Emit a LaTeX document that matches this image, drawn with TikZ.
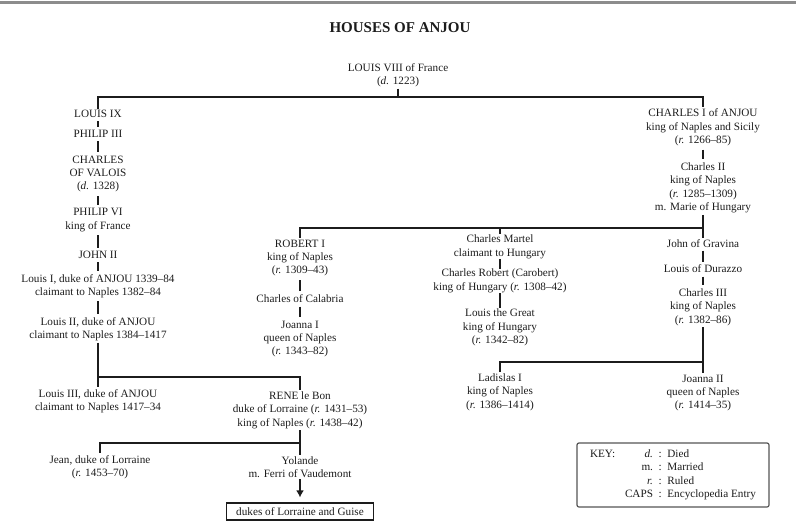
\documentclass[tikz,border=0pt]{standalone}
\usepackage{fontspec}
\setmainfont{Liberation Serif}
\usepackage{tikz}
\usetikzlibrary{arrows.meta}
\definecolor{ink}{HTML}{1C1C1C}
\definecolor{rulegray}{HTML}{8C8C8C}

\begin{document}
\begin{tikzpicture}[x=1pt,y=-1pt, every node/.style={font=\fontsize{11.2}{13.4}\selectfont,text=ink,align=center,inner sep=1.5pt},
    link/.style={draw=ink,line width=1.5pt}, tick/.style={link,shorten <=#1,shorten >=#1}, tick/.default=2pt]
    \useasboundingbox (0,0) rectangle (796,525);
    \draw[rulegray,line width=3pt] (0,2) -- (796,2);
    \node[font=\bfseries\fontsize{15}{18}\selectfont] (title) at (400,28) {HOUSES OF ANJOU};
    \node (louis8) at (398,75) {LOUIS VIII of France\\(\textit{d.} 1223)};
    \coordinate (bar1) at (0,97);
    \coordinate (bar2) at (0,228);
    \coordinate (bar3) at (0,362);
    \coordinate (bar4) at (0,377);
    \coordinate (bar5) at (0,443);

    \node (louisIX) at (98,114) {LOUIS IX};
    \node (philip3) at (98,134) {PHILIP III};
    \node (charlesV) at (98,174) {CHARLES\\OF VALOIS\\(\textit{d.} 1328)};
    \node (philip6) at (98,220) {PHILIP VI\\king of France};
    \node (john2) at (98,255) {JOHN II};
    \node (louis1) at (98,286.5) {Louis I, duke of ANJOU 1339--84\\claimant to Naples 1382--84};
    \node (louis2) at (98,329) {Louis II, duke of ANJOU\\claimant to Naples 1384--1417};
    \node (louis3) at (98,401) {Louis III, duke of ANJOU\\claimant to Naples 1417--34};
    \node (rene) at (300,410) {RENE le Bon\\duke of Lorraine (\textit{r.} 1431--53)\\king of Naples (\textit{r.} 1438--42)};
    \node (jean) at (100,467) {Jean, duke of Lorraine\\(\textit{r.} 1453--70)};
    \node (yolande) at (300,467) {Yolande\\m. Ferri of Vaudemont};
    \node[draw=ink,line width=1.2pt,minimum width=147pt,minimum height=17pt] (lorraine) at (300,511.5) {dukes of Lorraine and Guise};

    \node (charles1) at (703,127.5) {CHARLES I of ANJOU\\king of Naples and Sicily\\(\textit{r.} 1266--85)};
    \node (charles2) at (703,188) {Charles II\\king of Naples\\(\textit{r.} 1285--1309)\\m. Marie of Hungary};
    \node (robert) at (300,258) {ROBERT I\\king of Naples\\(\textit{r.} 1309--43)};
    \node (calabria) at (300,299) {Charles of Calabria};
    \node (joanna1) at (300,339) {Joanna I\\queen of Naples\\(\textit{r.} 1343--82)};
    \node (martel) at (500,247) {Charles Martel\\claimant to Hungary};
    \node (carobert) at (500,281) {Charles Robert (Carobert)\\king of Hungary (\textit{r.} 1308--42)};
    \node (louisgreat) at (500,327.5) {Louis the Great\\king of Hungary\\(\textit{r.} 1342--82)};
    \node (gravina) at (703,244) {John of Gravina};
    \node (durazzo) at (703,269) {Louis of Durazzo};
    \node (charles3) at (703,307) {Charles III\\king of Naples\\(\textit{r.} 1382--86)};
    \node (ladislas) at (500,392) {Ladislas I\\king of Naples\\(\textit{r.} 1386--1414)};
    \node (joanna2) at (703,393) {Joanna II\\queen of Naples\\(\textit{r.} 1414--35)};

    \node[draw=ink!75,line width=1.2pt,rounded corners=2pt,minimum width=192pt,minimum height=64pt] (key) at (673,475) {\begin{tabular}{@{}l@{}r@{\enspace:\enspace}l@{}}
        \makebox[35pt][l]{KEY:} & \textit{d.} & Died\\
        & m. & Married\\
        & \textit{r.} & Ruled\\
        & CAPS & Encyclopedia Entry
      \end{tabular}};

    \draw[link] (louis8) -- (louis8 |- bar1);
    \draw[link] (louisIX.north) -- (louisIX.north |- bar1) -| (charles1.north);
    \draw[tick] (louisIX) -- (philip3); \draw[tick] (philip3) -- (charlesV); \draw[tick] (charlesV) -- (philip6);
    \draw[tick] (philip6) -- (john2); \draw[tick] (john2) -- (louis1); \draw[tick=1pt] (louis1) -- (louis2);
    \draw[link] (louis2) -- (louis3);
    \draw[link] (louis2.south |- bar4) -| (rene.north);
    \draw[link] (rene) -- (yolande);
    \draw[link] (rene.south |- bar5) -| (jean.north);
    \draw[link,-{Latex[length=7pt,width=8pt]},shorten >=5pt] (yolande) -- (lorraine);

    \draw[tick] (charles1) -- (charles2);
    \draw[link] (charles2) -- (gravina);
    \draw[link] (charles2.south |- bar2) -| (robert.north);
    \draw[link] (martel.north) -- (martel.north |- bar2);
    \draw[tick] (robert) -- (calabria); \draw[tick] (calabria) -- (joanna1);
    \draw[tick=-1.5pt] (martel) -- (carobert); \draw[tick=-1pt] (carobert) -- (louisgreat);
    \draw[tick=1pt] (gravina) -- (durazzo); \draw[tick] (durazzo) -- (charles3);
    \draw[link] (charles3) -- (joanna2);
    \draw[link] (charles3.south |- bar3) -| (ladislas.north);
  \end{tikzpicture}
\end{document}
